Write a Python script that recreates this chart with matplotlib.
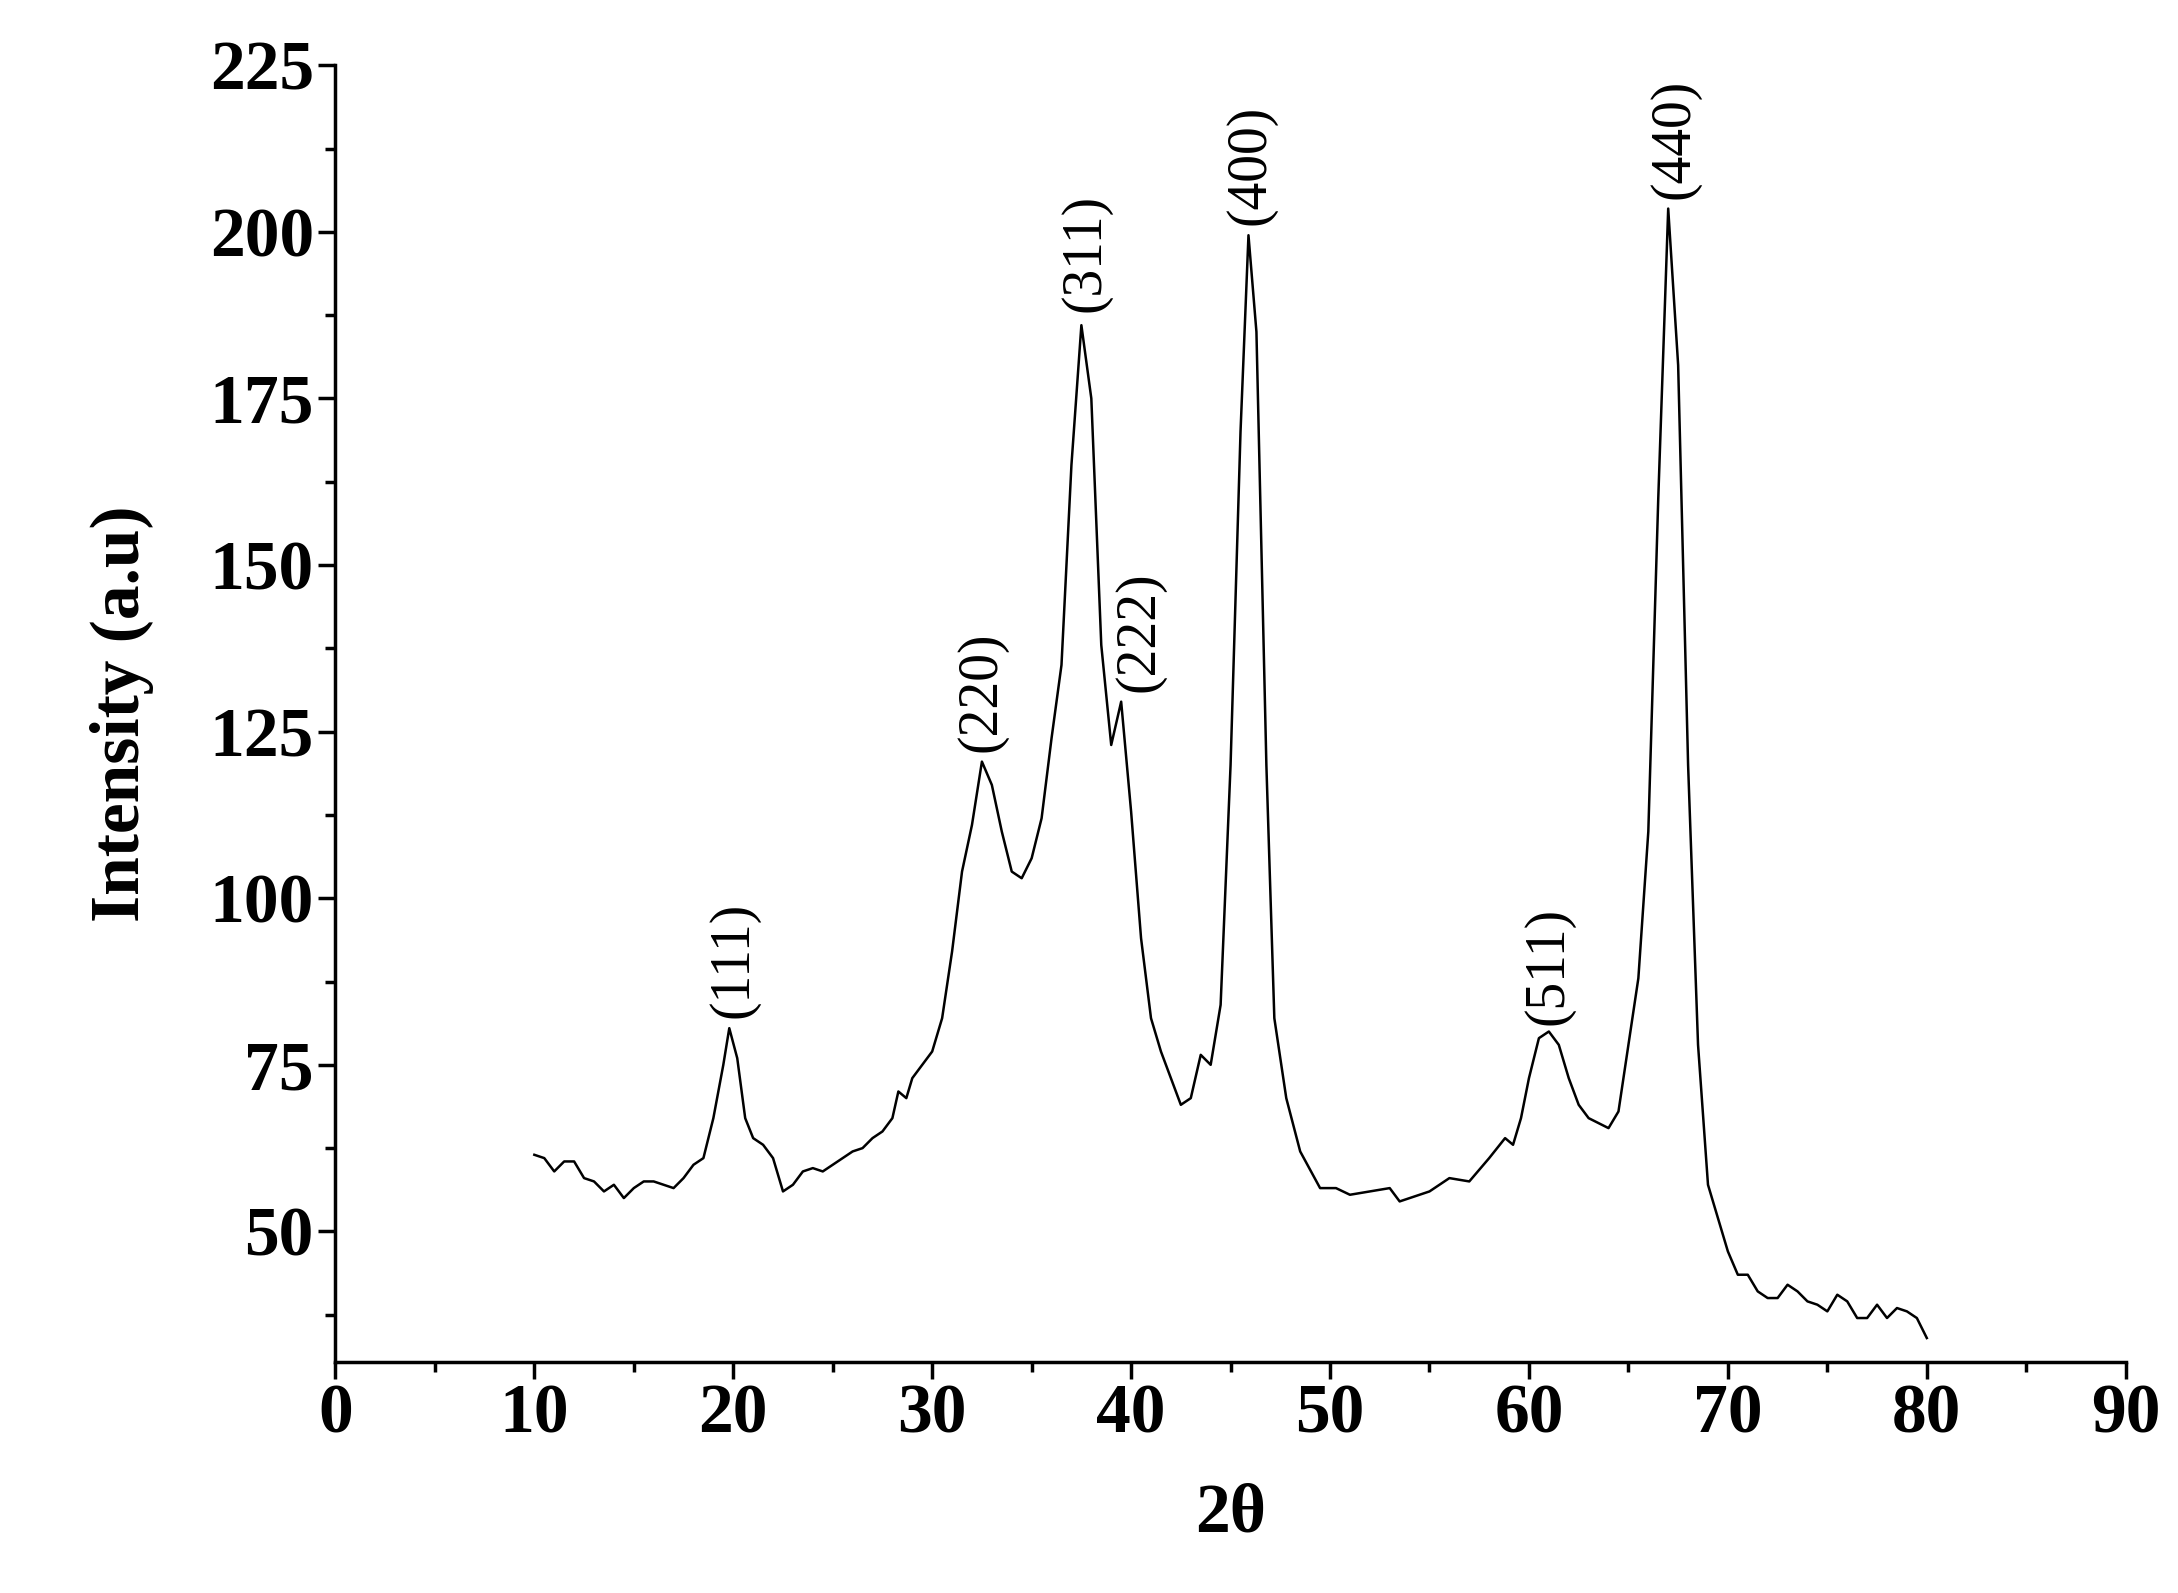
import matplotlib.pyplot as plt
from matplotlib.ticker import MultipleLocator

plt.rcParams['font.family'] = ['Liberation Serif', 'DejaVu Serif']

# 2theta / intensity
tt = [10, 10.5, 11, 11.5, 12, 12.5, 13, 13.5, 14, 14.5, 15, 15.5, 16, 16.5, 17, 17.5, 18, 18.5,
      19, 19.5, 19.8, 20.2, 20.6, 21, 21.5, 22, 22.5, 23, 23.5, 24, 24.5, 25, 25.5, 26, 26.5, 27,
      27.5, 28, 28.3, 28.7, 29, 29.5, 30, 30.5, 31, 31.5, 32, 32.5, 33, 33.5, 34, 34.5, 35, 35.5,
      36, 36.5, 37, 37.5, 38, 38.5, 39, 39.5, 40, 40.5, 41, 41.5, 42, 42.5, 43, 43.5, 44, 44.5,
      45, 45.5, 45.9, 46.3, 46.8, 47.2, 47.8, 48.5, 49.5, 50.3, 51, 52, 53, 53.5, 54, 55, 56, 57,
      58, 58.8, 59.2, 59.6, 60, 60.5, 61, 61.5, 62, 62.5, 63, 64, 64.5, 65, 65.5, 66, 66.5, 67,
      67.5, 68, 68.5, 69, 69.5, 70, 70.5, 71, 71.5, 72, 72.5, 73, 73.5, 74, 74.5, 75, 75.5, 76,
      76.5, 77, 77.5, 78, 78.5, 79, 79.5, 80]
inten = [61.5, 61, 59, 60.5, 60.5, 58, 57.5, 56, 57, 55, 56.5, 57.5, 57.5, 57, 56.5, 58, 60, 61,
         67, 75, 80.5, 76, 67, 64, 63, 61, 56, 57, 59, 59.5, 59, 60, 61, 62, 62.5, 64,
         65, 67, 71, 70, 73, 75, 77, 82, 92, 104, 111, 120.5, 117, 110, 104, 103, 106, 112,
         124, 135, 165, 186, 175, 138, 123, 129.5, 113, 94, 82, 77, 73, 69, 70, 76.5, 75, 84,
         120, 170, 199.5, 185, 120, 82, 70, 62, 56.5, 56.5, 55.5, 56, 56.5, 54.5, 55, 56, 58, 57.5,
         61, 64, 63, 67, 73, 79, 80, 78, 73, 69, 67, 65.5, 68, 78, 88, 110, 160, 203.5,
         180, 120, 78, 57, 52, 47, 43.5, 43.5, 41, 40, 40, 42, 41, 39.5, 39, 38, 40.5, 39.5,
         37, 37, 39, 37, 38.5, 38, 37, 34]

peak_lbl = ['(111)', '(220)', '(311)', '(222)', '(400)', '(511)', '(440)']
peak_x = [20, 32.5, 37.7, 40.4, 46.0, 61.0, 67.3]
peak_y = [82, 122, 188, 131, 201, 81, 205]

fig = plt.figure(figsize=(21.78, 15.93), dpi=100)
ax = fig.add_axes([0.154, 0.145, 0.822, 0.814])
ax.plot(tt, inten, color='black', lw=1.8)

for l, x, y in zip(peak_lbl, peak_x, peak_y):
    ax.text(x, y, l, rotation=90, ha='center', va='bottom', fontsize=40)

ax.set_xlim(0, 90)
ax.set_ylim(30.4, 225)
ax.xaxis.set_major_locator(MultipleLocator(10))
ax.xaxis.set_minor_locator(MultipleLocator(5))
ax.yaxis.set_minor_locator(MultipleLocator(12.5))
ax.set_yticks(range(50, 226, 25))
for s in ['top', 'right']:
    ax.spines[s].set_visible(False)
for s in ['left', 'bottom']:
    ax.spines[s].set_linewidth(2.5)
ax.tick_params(which='major', direction='out', length=12, width=2.5, labelsize=50)
ax.tick_params(which='minor', direction='out', length=7, width=2.5)
for t in ax.get_xticklabels() + ax.get_yticklabels():
    t.set_fontweight('bold')
ax.set_xlabel('2θ', fontsize=50, fontweight='bold', labelpad=25)
ax.set_ylabel('Intensity (a.u)', fontsize=50, fontweight='bold', labelpad=40)

plt.savefig('out.png', dpi=100)
